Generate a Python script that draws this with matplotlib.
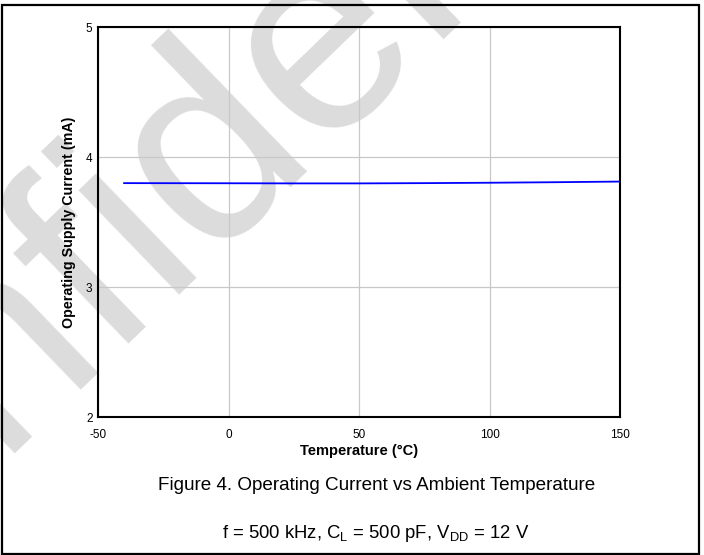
import numpy as np
import matplotlib
matplotlib.use('Agg')
import matplotlib.pyplot as plt
from matplotlib.patches import Rectangle

# Data
temperature = [-40, 0, 25, 50, 75, 100, 125, 150]
supply_current = [3.799, 3.798, 3.797, 3.797, 3.799, 3.802, 3.806, 3.811]

x_ticks = [-50, 0, 50, 100, 150]
y_ticks = [2, 3, 4, 5]

plt.rcParams['font.family'] = ['Liberation Sans', 'DejaVu Sans']
plt.rcParams['axes.unicode_minus'] = False
plt.rcParams['mathtext.fontset'] = 'custom'
plt.rcParams['mathtext.rm'] = 'Liberation Sans'

fig = plt.figure(figsize=(7.04, 5.55), dpi=100)
fig.patch.set_facecolor('white')

# watermark behind everything (anchored at baseline-left of the word)
fig.text(-0.362, -0.262, 'Confidential', fontsize=198, color='#dcdcdc',
         rotation=44, ha='left', va='baseline', rotation_mode='anchor',
         zorder=-1)

# outer frame
fig.patches.append(Rectangle((1.5 / 704, 1.5 / 555), 697 / 704, 549 / 555,
                             transform=fig.transFigure, fill=False,
                             edgecolor='black', linewidth=1.6, zorder=5))

ax = fig.add_axes([98 / 704, 1 - 417 / 555, 522 / 704, 390 / 555])
ax.set_facecolor('none')
ax.plot(temperature, supply_current, color='#0000ff', linewidth=1.3, zorder=3)

ax.set_xlim(-50, 150)
ax.set_ylim(2, 5)
ax.set_xticks(x_ticks)
ax.set_yticks(y_ticks)
ax.tick_params(axis='both', length=0, labelsize=8.5)
ax.tick_params(axis='x', pad=9)
ax.tick_params(axis='y', pad=4)
ax.grid(True, color='#c8c8c8', linewidth=0.9)
for sp in ax.spines.values():
    sp.set_linewidth(1.5)
    sp.set_color('black')

ax.set_ylabel('Operating Supply Current (mA)', fontsize=10.3, fontweight='bold', labelpad=7)
ax.set_xlabel('Temperature (°C)', fontsize=10.5, fontweight='bold', labelpad=2)

fig.text(377 / 704, 1 - 485 / 555, 'Figure 4. Operating Current vs Ambient Temperature',
         fontsize=13.6, ha='center', va='center')
fig.text(376 / 704, 1 - 533 / 555,
         r'f = 500 kHz, C$_\mathrm{L}$ = 500 pF, V$_\mathrm{DD}$ = 12 V',
         fontsize=13.3, ha='center', va='center')

fig.savefig('out.png', dpi=100, facecolor='white')
